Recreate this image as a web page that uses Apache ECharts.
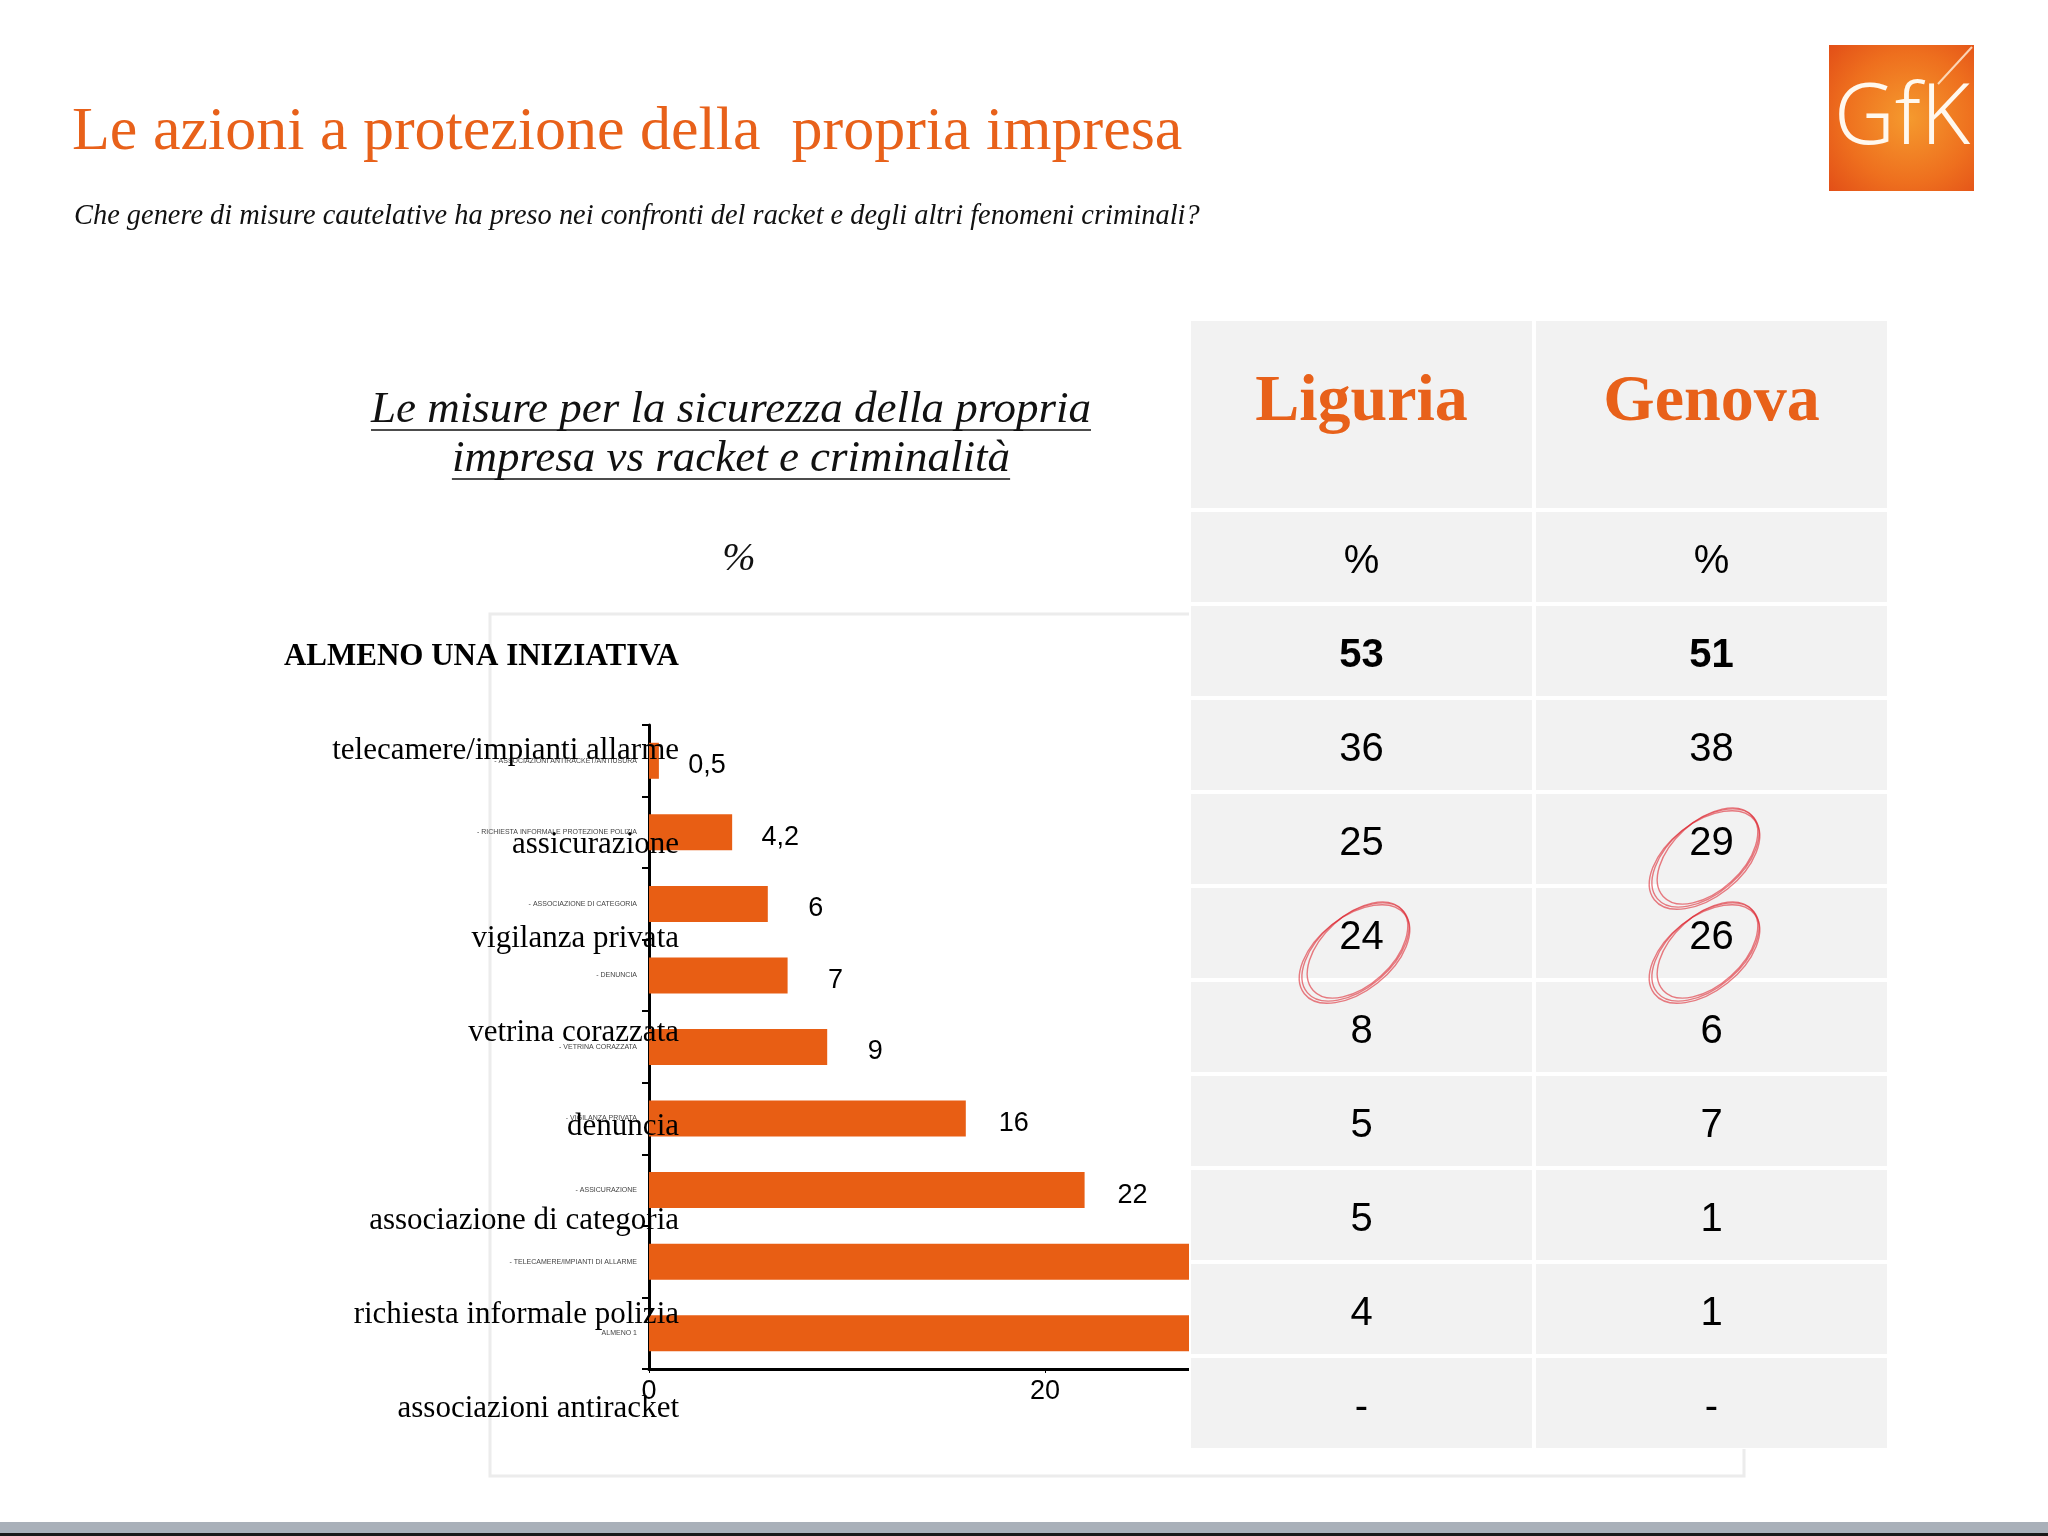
<!DOCTYPE html>
<html>
<head>
<meta charset="utf-8">
<title>Le azioni a protezione della propria impresa</title>
<script src="https://cdn.jsdelivr.net/npm/echarts@6/dist/echarts.min.js"></script>
<style>
  html, body { margin: 0; padding: 0; background: #fff; }
  #main { width: 2048px; height: 1536px; }
</style>
</head>
<body>
<div id="main"></div>
<script>
// dati del grafico a barre (Liguria, ordine crescente)
var barCategories = [
  '- ASSOCIAZIONI ANTIRACKET/ANTIUSURA',
  '- RICHIESTA INFORMALE PROTEZIONE POLIZIA',
  '- ASSOCIAZIONE DI CATEGORIA',
  '- DENUNCIA',
  '- VETRINA CORAZZATA',
  '- VIGILANZA PRIVATA',
  '- ASSICURAZIONE',
  '- TELECAMERE/IMPIANTI DI ALLARME',
  'ALMENO 1'
]
var barValues = [0.5, 4.2, 6, 7, 9, 16, 22, 36, 53]

// tabella a destra
var rowLabels = [
  'ALMENO UNA INIZIATIVA',
  'telecamere/impianti allarme',
  'assicurazione',
  'vigilanza privata',
  'vetrina corazzata',
  'denuncia',
  'associazione di categoria',
  'richiesta informale polizia',
  'associazioni antiracket'
]
var columns = ['Liguria', 'Genova']
var liguria = ['53', '36', '25', '24', '8', '5', '5', '4', '-']
var genova = ['51', '38', '29', '26', '6', '7', '1', '1', '-']
// celle cerchiate a mano: [colonna, riga]
var circled = [[1, 2], [0, 3], [1, 3]]

var ORANGE = '#E8611A'
var SERIF = '"Liberation Serif", "Times New Roman", serif'
var SANS = '"Liberation Sans", Arial, sans-serif'

var chart = echarts.init(document.getElementById('main'))

// misura testo per le sottolineature
var ctx = document.createElement('canvas').getContext('2d')
function textWidth(txt, font) {
  ctx.font = font
  return ctx.measureText(txt).width
}

var g = []

// cornice del grafico
g.push({ type: 'rect', z: 0, shape: { x: 490, y: 614, width: 1254, height: 862 },
  style: { fill: 'none', stroke: '#ECECEC', lineWidth: 3 } })

// titolo e domanda
g.push({ type: 'text', z: 5, x: 72, y: 133, style: {
  text: 'Le azioni a protezione della  propria impresa', fill: ORANGE,
  font: '62px ' + SERIF, verticalAlign: 'middle' } })
g.push({ type: 'text', z: 5, x: 74, y: 217, style: {
  text: 'Che genere di misure cautelative ha preso nei confronti del racket e degli altri fenomeni criminali?',
  fill: '#111', font: 'italic 28.4px ' + SERIF, verticalAlign: 'middle' } })

// intestazione sottolineata
var headLines = ['Le misure per la sicurezza della propria', 'impresa vs racket e criminalità']
var headFont = 'italic 45px ' + SERIF
headLines.forEach(function (t, i) {
  var y = 410 + i * 49
  var w = textWidth(t, headFont)
  g.push({ type: 'text', z: 5, x: 731, y: y, style: {
    text: t, fill: '#111', font: headFont, align: 'center', verticalAlign: 'middle' } })
  g.push({ type: 'line', z: 5, shape: { x1: 731 - w / 2, y1: y + 20, x2: 731 + w / 2, y2: y + 20 },
    style: { stroke: '#111', lineWidth: 1.5 } })
})
g.push({ type: 'text', z: 5, x: 739, y: 559, style: {
  text: '%', fill: '#111', font: 'italic 40px ' + SERIF, align: 'center', verticalAlign: 'middle' } })

// etichette di riga (sopra il grafico)
rowLabels.forEach(function (t, i) {
  g.push({ type: 'text', z: 20, x: 679, y: 657 + 94 * i, style: {
    text: t, fill: '#000',
    font: (i === 0 ? 'bold 31px ' : '31px ') + SERIF,
    align: 'right', verticalAlign: 'middle' } })
})

// tabella
var colX = [1191, 1536], colW = [341, 351]
g.push({ type: 'rect', z: 9, shape: { x: 1189, y: 319, width: 700, height: 1130 }, style: { fill: '#fff' } })
for (var c = 0; c < 2; c++) {
  var vals = c === 0 ? liguria : genova
  var cx = colX[c] + colW[c] / 2
  g.push({ type: 'rect', z: 10, shape: { x: colX[c], y: 321, width: colW[c], height: 187 }, style: { fill: '#F2F2F2' } })
  g.push({ type: 'text', z: 11, x: cx, y: 403, style: {
    text: columns[c], fill: ORANGE, font: 'bold 66px ' + SERIF, align: 'center', verticalAlign: 'middle' } })
  var cells = ['%'].concat(vals)
  for (var r = 0; r < cells.length; r++) {
    var y0 = 512 + 94 * r
    g.push({ type: 'rect', z: 10, shape: { x: colX[c], y: y0, width: colW[c], height: 90 }, style: { fill: '#F2F2F2' } })
    g.push({ type: 'text', z: 11, x: cx, y: y0 + 50, style: {
      text: cells[r], fill: '#000', font: (r === 1 ? 'bold ' : '') + '40px ' + SANS,
      align: 'center', verticalAlign: 'middle' } })
  }
}

// cerchi rossi fatti a mano
circled.forEach(function (p) {
  var cx = colX[p[0]] + colW[p[0]] / 2 - 6
  var cy = 512 + 94 * (p[1] + 1) + 64
  var tweaks = [[0, 0, 63, 36, 0.70], [2, -2, 60, 35, 0.74], [-1, 2, 64, 37, 0.67]]
  tweaks.forEach(function (k) {
    g.push({ type: 'ellipse', z: 12, x: cx + k[0], y: cy + k[1], rotation: k[4],
      shape: { cx: 0, cy: 0, rx: k[2], ry: k[3] },
      style: { fill: 'none', stroke: 'rgba(222,40,50,0.6)', lineWidth: 1.4 } })
  })
})

// logo GfK
g.push({ type: 'rect', z: 5, shape: { x: 1829, y: 45, width: 145, height: 146 },
  style: { fill: { type: 'radial', x: 0.55, y: 0.5, r: 0.75,
    colorStops: [{ offset: 0, color: '#F59A2E' }, { offset: 0.6, color: '#EE6F1E' }, { offset: 1, color: '#E24E17' }] } } })
g.push({ type: 'line', z: 6, shape: { x1: 1972, y1: 47, x2: 1938, y2: 84 },
  style: { stroke: 'rgba(255,240,220,0.8)', lineWidth: 2 } })
g.push({ type: 'text', z: 6, x: 1902, y: 120, style: {
  text: 'GfK', fill: '#FFF8EE', font: '300 84px "Noto Sans", sans-serif',
  align: 'center', verticalAlign: 'middle' } })

// banda in fondo
g.push({ type: 'rect', z: 5, shape: { x: 0, y: 1522, width: 2048, height: 11 }, style: { fill: '#A9B0B9' } })
g.push({ type: 'rect', z: 5, shape: { x: 0, y: 1533, width: 2048, height: 3 }, style: { fill: '#1a1a1a' } })

var option = {
  backgroundColor: '#fff',
  animation: false,
  grid: { left: 649, top: 725, width: 1188, height: 644, containLabel: false },
  xAxis: {
    type: 'value', min: 0, max: 60, interval: 20,
    axisLine: { show: true, lineStyle: { color: '#000', width: 3 } },
    axisTick: { show: true, length: 4, lineStyle: { color: '#000', width: 1 } },
    splitLine: { show: false },
    axisLabel: { color: '#000', fontSize: 27, fontFamily: SANS, margin: 9 }
  },
  yAxis: {
    type: 'category', inverse: true, data: barCategories,
    axisLine: { show: true, lineStyle: { color: '#000', width: 3 } },
    axisTick: { show: true, length: 7, lineStyle: { color: '#000', width: 2 } },
    axisLabel: { color: '#444', fontSize: 7, fontFamily: SANS, margin: 12 }
  },
  series: [{
    type: 'bar',
    data: barValues,
    barWidth: 36,
    itemStyle: { color: '#E85E14' },
    label: {
      show: true,
      position: ['100%', '50%'],
      offset: [48, 5],
      align: 'center',
      verticalAlign: 'middle',
      color: '#000',
      fontSize: 27,
      fontFamily: SANS,
      formatter: function (p) { return String(p.value).replace('.', ',') }
    }
  }],
  graphic: { elements: g }
}
chart.setOption(option)
</script>
</body>
</html>
